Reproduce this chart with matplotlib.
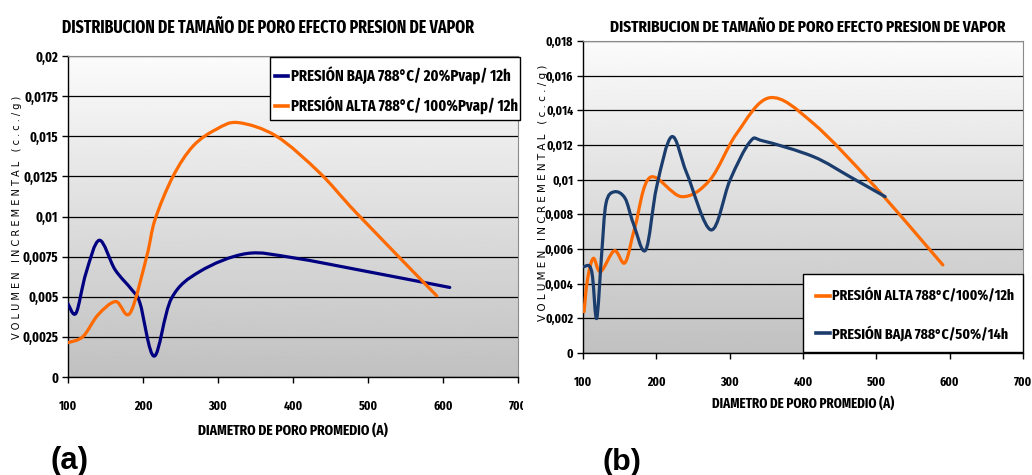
import numpy as np
import matplotlib
matplotlib.use("Agg")
import matplotlib.pyplot as plt
from matplotlib.path import Path
from matplotlib.patches import PathPatch, Rectangle
from matplotlib.lines import Line2D
from matplotlib.ticker import MultipleLocator, FuncFormatter
from matplotlib import font_manager as fm
from matplotlib.transforms import Bbox

# ---------------- data ----------------
title = "DISTRIBUCION DE TAMAÑO DE PORO EFECTO PRESION DE VAPOR"
xlabel = "DIAMETRO DE PORO PROMEDIO (A)"
ylabel = "V O L U M E N   I N C R E M E N T A L   ( c . c . / g )"

# Panel (a)
a_baja_label = "PRESIÓN BAJA 788°C/ 20%Pvap/ 12h"
a_baja_x = [100, 110.7, 124, 141.8, 162.7, 185, 196, 215, 238, 276, 338, 400, 498, 609]
a_baja_y = [0.00456, 0.00398, 0.00648, 0.00852, 0.00669, 0.00544, 0.0046, 0.0013,
            0.0049, 0.00658, 0.00769, 0.00743, 0.00658, 0.00558]
a_alta_label = "PRESIÓN ALTA 788°C/ 100%Pvap/ 12h"
a_alta_x = [100, 120, 140, 163.6, 182.7, 205, 216, 240, 267, 298, 327, 378, 436, 485, 591.6]
a_alta_y = [0.00214, 0.00252, 0.00387, 0.0047, 0.00398, 0.00752, 0.0098, 0.0125,
            0.0144, 0.01544, 0.01585, 0.0150, 0.0127, 0.0102, 0.00506]

# Panel (b)
b_alta_label = "PRESIÓN ALTA 788°C/100%/12h"
b_alta_x = [101.4, 106, 114, 124, 142.7, 157.3, 171, 191.4, 234.6, 273, 309.7, 355, 414, 498, 590.7]
b_alta_y = [0.00238, 0.0042, 0.00546, 0.00469, 0.0059, 0.00521, 0.00729, 0.01013,
            0.00902, 0.00998, 0.01267, 0.01473, 0.01325, 0.0096, 0.00508]
b_baja_label = "PRESIÓN BAJA 788°C/50%/14h"
b_baja_x = [101.4, 108.6, 113, 118.7, 125.5, 131.4, 142.7, 157.3, 168.6, 185.5, 200.5,
            221, 241.5, 274.6, 300.5, 327.8, 346, 414, 464, 512]
b_baja_y = [0.00498, 0.00502, 0.0044, 0.0020, 0.00575, 0.00864, 0.0093, 0.00893, 0.00748,
            0.00594, 0.0096, 0.01248, 0.01037, 0.0071, 0.00998, 0.01219, 0.01223, 0.01133,
            0.01017, 0.00902]

x_ticks = [100, 200, 300, 400, 500, 600, 700]

# ---------------- styling ----------------
W, H = 1032, 475
NAVY_A = "#000080"
NAVY_B = "#1b3d6d"
ORANGE = "#ff6a00"

STRETCH_NUM = {"ultra-condensed": 50, "extra-condensed": 62, "condensed": 75,
               "semi-condensed": 87, "normal": 100}


def stretch_of(f):
    s = f.stretch
    if isinstance(s, (int, float)):
        return s / 10.0 if s > 200 else s
    s = str(s).lower()
    nm = (f.name + " " + str(f.fname)).lower().replace(" ", "").replace("-", "")
    if "ultracondensed" in nm:
        return 50
    if "extracondensed" in nm:
        return 62
    if "semicondensed" in nm:
        return 87
    if "condensed" in nm:
        return 75
    if "narrow" in nm:
        return 82
    for key in ["ultra-condensed", "extra-condensed", "semi-condensed", "condensed"]:
        if key in s:
            return STRETCH_NUM[key]
    return 100


def weight_of(f):
    try:
        return int(f.weight)
    except Exception:
        w = str(f.weight).lower()
        return {"bold": 700, "semibold": 600, "demibold": 600, "heavy": 800,
                "black": 900, "extra bold": 800, "normal": 400, "regular": 400}.get(w, 400)


def find_narrow_bold():
    best, best_score = None, None
    fam_pref = {"liberation sans narrow": 0, "noto sans": 1, "dejavu sans": 2}
    for f in fm.fontManager.ttflist:
        st = stretch_of(f)
        if st >= 100 or f.style != "normal":
            continue
        wt = weight_of(f)
        if wt < 600:
            continue
        nm = f.name.lower()
        fp = 5
        for k, v in fam_pref.items():
            if nm.startswith(k):
                fp = min(fp, v)
        if "mono" in nm or "serif" in nm or "display" in nm:
            fp += 10
        score = (abs(wt - 700) // 50, abs(st - 62) // 5, fp)
        if best_score is None or score < best_score:
            best, best_score = f.fname, score
    return best


NB_PATH = find_narrow_bold()


def bold_prop(size):
    if NB_PATH:
        return fm.FontProperties(fname=NB_PATH, size=size)
    return fm.FontProperties(family=["Liberation Sans", "DejaVu Sans"], weight="bold",
                             size=size)


def smooth_path(x, y):
    pts = np.column_stack([x, y]).astype(float)
    n = len(pts)
    verts = [pts[0]]
    codes = [Path.MOVETO]
    for i in range(n - 1):
        p0 = pts[i - 1] if i > 0 else pts[i]
        p1 = pts[i]
        p2 = pts[i + 1]
        p3 = pts[i + 2] if i + 2 < n else pts[i + 1]
        c1 = p1 + (p2 - p0) / 6.0
        c2 = p2 - (p3 - p1) / 6.0
        verts += [c1, c2, p2]
        codes += [Path.CURVE4] * 3
    return Path(verts, codes)


def fmt(v, pos):
    if abs(v) < 1e-12:
        return "0"
    return ("%g" % v).replace(".", ",")


def fx(px):
    return px / W


def fy(py):
    return 1 - py / H


def px_rect(x0, y0, x1, y1):
    return [x0 / W, 1 - y1 / H, (x1 - x0) / W, (y1 - y0) / H]


fig = plt.figure(figsize=(W / 100, H / 100), dpi=100)
fig.patch.set_facecolor("white")
renderer = fig.canvas.get_renderer()


def fit_box(t, target_w, cap_h):
    """Font size limited by the reference width and by the reference cap height (px)."""
    w = t.get_window_extent(renderer).width
    size_w = t.get_fontsize() * target_w / w if w > 0 else cap_h
    t.set_fontsize(min(size_w, cap_h))
    return t.get_fontsize()


def fit_height(t, target):
    h = t.get_window_extent(renderer).height
    if h > 0:
        t.set_fontsize(t.get_fontsize() * target / h)


grad = np.linspace(0.755, 0.985, 256).reshape(-1, 1)


def setup(ax, ymax, ystep, series, ytick_target, ytick_ref, ytick_cap, xtick_target, xtick_cap):
    ax.set_xlim(100, 700)
    ax.set_ylim(0, ymax)
    ax.imshow(grad, cmap="gray", vmin=0, vmax=1, aspect="auto",
              extent=[0, 1, 0, 1], transform=ax.transAxes, origin="lower", zorder=0)
    ax.yaxis.set_major_locator(MultipleLocator(ystep))
    ax.set_xticks(x_ticks)
    ax.yaxis.set_major_formatter(FuncFormatter(fmt))
    ax.grid(axis="y", color="black", lw=0.9)
    ax.set_axisbelow(True)
    for s in ["top", "right"]:
        ax.spines[s].set_color("#8a8a8a")
    for s in ["left", "bottom"]:
        ax.spines[s].set_color("black")
        ax.spines[s].set_linewidth(1.0)
    ax.tick_params(direction="out", length=4, width=1, colors="black")
    for xs, ys, c in series:
        ax.add_patch(PathPatch(smooth_path(xs, ys), facecolor="none", edgecolor=c,
                               lw=2.3, capstyle="round", joinstyle="round", zorder=3))
    probe = fig.text(0, 0, ytick_ref, fontproperties=bold_prop(10))
    ys_ = fit_box(probe, ytick_target, ytick_cap)
    probe.set_text("100")
    probe.set_fontsize(10)
    xs_ = fit_box(probe, xtick_target, xtick_cap)
    probe.remove()
    for lab in ax.get_yticklabels():
        lab.set_fontproperties(bold_prop(ys_))
    for lab in ax.get_xticklabels():
        lab.set_fontproperties(bold_prop(xs_))


# ---- panel (a)
axA = fig.add_axes(px_rect(68, 56, 518, 377))
setup(axA, 0.02, 0.0025, [(a_baja_x, a_baja_y, NAVY_A), (a_alta_x, a_alta_y, ORANGE)],
      34, "0,0175", 12, 18, 13)
axA.tick_params(axis="x", pad=13)
axA.tick_params(axis="y", pad=3)
clip = Bbox.from_extents(0, 0, 523, H)
for lab in axA.get_xticklabels():
    lab.set_clip_box(clip)
    lab.set_clip_on(True)

t = fig.text(fx(268), fy(28), title, ha="center", va="center", fontproperties=bold_prop(10))
fit_box(t, 412, 15)
t = fig.text(fx(293), fy(430), xlabel, ha="center", va="center", fontproperties=bold_prop(10))
fit_box(t, 190, 13)
t = fig.text(fx(17), fy(217), ylabel, ha="center", va="center", rotation=90,
             fontsize=7, family=["DejaVu Sans"])
fit_height(t, 243)
t = fig.text(fx(69), fy(461), "(a)", ha="center", va="center", fontsize=19,
             fontweight="bold", family=["Liberation Sans", "DejaVu Sans"])
t.set_fontsize(t.get_fontsize() * 38 / t.get_window_extent(renderer).width)

# legend (a)
fig.add_artist(Rectangle((fx(270), fy(120)), (520 - 270) / W, (120 - 57) / H,
                         transform=fig.transFigure, facecolor="white", edgecolor="black",
                         lw=1.0, zorder=5))
for yy, c, lab, tw in [(76, NAVY_A, a_baja_label, 219), (106, ORANGE, a_alta_label, 226)]:
    fig.add_artist(Line2D([fx(275), fx(288)], [fy(yy), fy(yy)], color=c, lw=2.6,
                          transform=fig.transFigure, zorder=6))
    t = fig.text(fx(291), fy(yy), lab, ha="left", va="center",
                 fontproperties=bold_prop(10), zorder=6)
    fit_box(t, tw, 15)

# ---- panel (b)
axB = fig.add_axes(px_rect(583, 41, 1023, 353))
setup(axB, 0.018, 0.002, [(b_alta_x, b_alta_y, ORANGE), (b_baja_x, b_baja_y, NAVY_B)],
      27, "0,018", 12, 18, 13)
axB.tick_params(axis="x", pad=13)
axB.tick_params(axis="y", pad=3)

t = fig.text(fx(808), fy(27), title, ha="center", va="center", fontproperties=bold_prop(10))
fit_box(t, 394, 14)
t = fig.text(fx(803), fy(403), xlabel, ha="center", va="center", fontproperties=bold_prop(10))
fit_box(t, 182, 13)
t = fig.text(fx(543), fy(193), ylabel, ha="center", va="center", rotation=90,
             fontsize=7, family=["DejaVu Sans"])
fit_height(t, 259)
t = fig.text(fx(622), fy(462), "(b)", ha="center", va="center", fontsize=19,
             fontweight="bold", family=["Liberation Sans", "DejaVu Sans"])
t.set_fontsize(t.get_fontsize() * 39 / t.get_window_extent(renderer).width)

# legend (b)
fig.add_artist(Rectangle((fx(803), fy(352)), (1023 - 803) / W, (352 - 274) / H,
                         transform=fig.transFigure, facecolor="white", edgecolor="black",
                         lw=1.0, zorder=5))
for yy, c, lab, tw in [(296, ORANGE, b_alta_label, 182), (333, NAVY_B, b_baja_label, 176)]:
    fig.add_artist(Line2D([fx(816), fx(830)], [fy(yy), fy(yy)], color=c, lw=2.6,
                          transform=fig.transFigure, zorder=6))
    t = fig.text(fx(832), fy(yy), lab, ha="left", va="center",
                 fontproperties=bold_prop(10), zorder=6)
    fit_box(t, tw, 15)

fig.savefig("out.png", dpi=100, facecolor="white")
